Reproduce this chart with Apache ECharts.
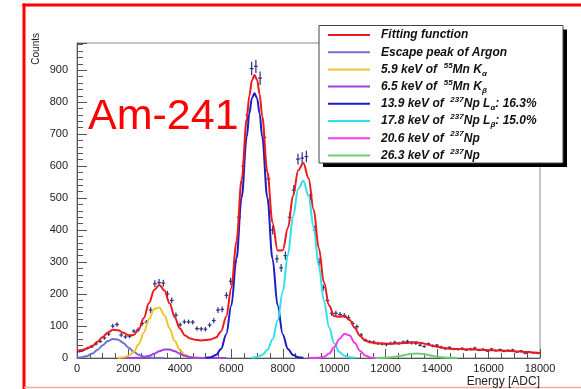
<!DOCTYPE html>
<html>
<head>
<meta charset="utf-8">
<title>Am-241 spectrum</title>
<script src="https://cdn.jsdelivr.net/npm/echarts@6/dist/echarts.min.js"></script>
<style>
  html, body { margin: 0; padding: 0; background: #ffffff; }
  #chart { width: 581px; height: 389px; }
</style>
</head>
<body>
<div id="chart"></div>
<script>
// ---- Axis ranges ----
const ENERGY_MIN = 0;
const ENERGY_MAX = 18000;
const ENERGY_STEP = 2000;
const COUNT_MIN = 0;
const COUNT_MAX = 985;
const COUNT_STEP = 100;
const BIN_COUNT = 110;
const binWidth = (ENERGY_MAX - ENERGY_MIN) / BIN_COUNT;

// ---- Measured histogram (counts per bin) and their errors ----
const histCounts = [
  20, 24, 31, 35, 44, 52, 63, 75, 100, 105,
  72, 66, 68, 84, 88, 108, 112, 150, 232, 236,
  234, 200, 180, 134, 104, 113, 113, 112, 92, 91,
  90, 103, 117, 150, 152, 196, 240, 300, 440, 600,
  760, 905, 912, 875, 690, 560, 400, 310, 282, 320,
  440, 525, 622, 625, 630, 509, 400, 300, 220, 180,
  140, 140, 136, 133, 126, 108, 98, 72, 56, 51,
  50, 46, 44, 42, 46, 49, 46, 50, 52, 47,
  46, 40, 36, 44, 38, 40, 34, 29, 33, 28,
  27, 30, 25, 28, 31, 24, 27, 22, 28, 23,
  26, 21, 24, 25, 19, 22, 15, 19, 16, 15
];
const histErrors = [
  3, 3, 4, 4, 5, 5, 6, 6, 7, 7,
  6, 6, 6, 6, 7, 7, 7, 9, 11, 11,
  11, 10, 9, 8, 7, 7, 7, 7, 7, 7,
  7, 7, 8, 9, 9, 10, 11, 12, 15, 17,
  19, 21, 21, 21, 18, 17, 14, 12, 12, 13,
  15, 16, 17, 18, 18, 16, 14, 12, 10, 9,
  8, 8, 8, 8, 8, 7, 7, 6, 5, 5,
  5, 5, 5, 5, 5, 5, 5, 5, 5, 5,
  5, 4, 4, 5, 4, 4, 4, 4, 4, 4,
  4, 4, 3, 4, 4, 3, 4, 3, 4, 3,
  4, 3, 3, 4, 3, 3, 3, 3, 3, 3
];

// ---- Total fit and its components: [energy, counts] ----
const fitTotal = [
  [0,22],[200,25],[400,30],[600,38],[800,51],[1000,66],[1200,80],[1400,88],[1600,87],[1800,79],
  [2000,71],[2200,72],[2400,89],[2600,125],[2800,172],[3000,213],[3200,228],[3400,211],[3600,171],[3800,127],
  [4000,92],[4200,70],[4400,61],[4600,57],[4800,55],[5000,56],[5200,58],[5400,64],[5600,83],[5800,129],
  [6000,219],[6200,366],[6400,557],[6600,747],[6700,820],[6800,868],[6900,885],[7000,870],[7100,825],[7200,756],
  [7400,582],[7600,424],[7800,336],[8000,337],[8200,407],[8400,507],[8600,587],[8800,610],[9000,563],[9200,464],
  [9400,344],[9600,237],[9800,164],[10000,131],[10200,129],[10400,131],[10600,119],[10800,94],[11000,69],[11200,55],
  [11400,49],[11600,46],[11800,45],[12000,45],[12200,44],[12400,45],[12600,46],[12800,47],[13000,49],[13200,49],
  [13400,47],[13600,43],[13800,39],[14000,35],[14200,32],[14400,30],[14600,28.5],[14800,28],[15000,27.5],[15200,27],
  [15400,26.5],[15600,26],[15800,25],[16000,24.5],[16200,24],[16400,23.5],[16600,23],[16800,22],[17000,21],[17200,20],
  [17400,19],[17600,18],[17800,17],[18000,16]
];
const argonEscape = [
  [0,0.9],[200,2.6],[400,6.6],[600,14.2],[800,25.8],[1000,40],[1200,52.9],[1400,59.7],[1600,57.3],
  [1800,47],[2000,32.8],[2200,19.5],[2400,9.9],[2600,4.3],[2800,1.6],[3000,0.5],[3200,0.1],[3400,0]
];
const mnKalpha = [
  [1600,0],[1800,2],[2000,6.8],[2200,18.9],[2400,42.9],[2600,80],[2800,122],[3000,153],[3200,158],
  [3400,133.6],[3600,92.8],[3800,52.8],[4000,24.7],[4200,9.5],[4400,3],[4600,0.8],[4800,0]
];
const mnKbeta = [
  [1900,0],[2200,0.2],[2400,0.9],[2600,2.7],[2800,6.7],[3000,13.3],[3200,20.9],[3400,26.2],[3600,26.2],
  [3800,20.9],[4000,13.3],[4200,6.7],[4400,2.7],[4600,0.9],[4800,0.2],[5000,0],[5800,0]
];
const npLalpha = [
  [5000,0.6],[5200,2.6],[5400,9.2],[5600,28.2],[5800,73.6],[6000,164],[6200,311],[6400,502],[6600,692],
  [6700,764],[6800,812],[6900,828],[7000,812],[7100,764],[7200,692],[7400,502],[7600,311],[7800,164],
  [8000,73.6],[8200,28.2],[8400,9.2],[8600,2.6],[8800,0.6]
];
const npLbeta = [
  [6800,0.9],[7000,3.1],[7200,9.4],[7400,25],[7600,57.8],[7800,117],[8000,208],[8200,324],[8400,443],
  [8600,529],[8800,554],[9000,508],[9200,409],[9400,288],[9600,178],[9800,96],[10000,45.5],[10200,18.9],
  [10400,6.9],[10600,2.2],[10800,0.6]
];
const np206 = [
  [9000,0],[9400,0.9],[9600,4],[9800,13.7],[10000,33.7],[10200,59.7],[10400,76.2],[10600,70.2],
  [10800,46.7],[11000,22.4],[11200,7.7],[11400,1.9],[11600,0.3],[11800,0]
];
const np263 = [
  [11600,0.1],[11800,0.4],[12000,1],[12200,2.2],[12400,4.3],[12600,7.2],[12800,10.4],[13000,13],[13200,14],
  [13400,13],[13600,10.4],[13800,7.2],[14000,4.3],[14200,2.2],[14400,1],[14600,0.4],[14800,0.1]
];

// ---- Legend entries (series name -> rich label) ----
const seriesNames = [
  'Fitting function',
  'Escape peak of Argon',
  '5.9 keV of 55Mn Kα',
  '6.5 keV of 55Mn Kβ',
  '13.9 keV of 237Np Lα: 16.3%',
  '17.8 keV of 237Np Lβ: 15.0%',
  '20.6 keV of 237Np',
  '26.3 keV of 237Np'
];
const legendLabels = {
  'Fitting function': 'Fitting function',
  'Escape peak of Argon': 'Escape peak of Argon',
  '5.9 keV of 55Mn Kα': '5.9 keV of  {sup|55}Mn K{sub|α}',
  '6.5 keV of 55Mn Kβ': '6.5 keV of  {sup|55}Mn K{sub|β}',
  '13.9 keV of 237Np Lα: 16.3%': '13.9 keV of  {sup|237}Np L{sub|α}: 16.3%',
  '17.8 keV of 237Np Lβ: 15.0%': '17.8 keV of  {sup|237}Np L{sub|β}: 15.0%',
  '20.6 keV of 237Np': '20.6 keV of  {sup|237}Np',
  '26.3 keV of 237Np': '26.3 keV of  {sup|237}Np'
};
const seriesColors = ['#ee1a1a', '#6f6fd4', '#f2c42c', '#a63ee0', '#1c1cc6', '#2ee0ea', '#ee3cee', '#70d070'];
const seriesData = [fitTotal, argonEscape, mnKalpha, mnKbeta, npLalpha, npLbeta, np206, np263];

const FONT = '"Liberation Sans", Arial, Helvetica, sans-serif';

// error-bar cross for one histogram bin
function renderCross(params, api) {
  const x = api.value(0);
  const y = api.value(1);
  const err = api.value(2);
  const c = api.coord([x, y]);
  const hi = api.coord([x, y + err]);
  const lo = api.coord([x, Math.max(0, y - err)]);
  const l = api.coord([x - binWidth * 0.45, y]);
  const r = api.coord([x + binWidth * 0.45, y]);
  const style = { stroke: '#2e2e86', lineWidth: 1.2, fill: null };
  return {
    type: 'group',
    children: [
      { type: 'line', shape: { x1: l[0], y1: c[1], x2: r[0], y2: c[1] }, style: style },
      { type: 'line', shape: { x1: c[0], y1: hi[1], x2: c[0], y2: lo[1] }, style: style }
    ]
  };
}

const lineSeries = seriesNames.map(function (name, i) {
  return {
    type: 'line',
    name: name,
    data: seriesData[i],
    color: seriesColors[i],
    symbol: 'none',
    showSymbol: false,
    smooth: 0.35,
    smoothMonotone: 'x',
    clip: true,
    silent: true,
    lineStyle: { color: seriesColors[i], width: 2 },
    itemStyle: { color: seriesColors[i] },
    z: i === 0 ? 4 : 3
  };
});

const tokenBase = { fontFamily: FONT, fontWeight: 'bold', fontStyle: 'italic', color: '#111' };

const option = {
  animation: false,
  backgroundColor: '#ffffff',
  grid: {
    left: 77, top: 43, right: 41, bottom: 31,
    show: true, borderColor: '#8a8a8a', borderWidth: 1, backgroundColor: 'transparent',
    containLabel: false, outerBoundsMode: 'none'
  },
  xAxis: {
    type: 'value',
    min: ENERGY_MIN, max: ENERGY_MAX, interval: ENERGY_STEP,
    axisLine: { show: true, onZero: false, lineStyle: { color: '#555', width: 1 } },
    axisTick: { show: true, inside: true, length: 9, lineStyle: { color: '#555' } },
    minorTick: { show: true, splitNumber: 4, length: 5, lineStyle: { color: '#555' } },
    splitLine: { show: false },
    axisLabel: {
      fontFamily: FONT, fontSize: 11, color: '#222', margin: 5,
      showMinLabel: true, showMaxLabel: true, hideOverlap: false,
      formatter: function (v) { return String(v); }
    }
  },
  yAxis: {
    type: 'value',
    min: COUNT_MIN, max: COUNT_MAX, interval: COUNT_STEP,
    axisLine: { show: true, onZero: false, lineStyle: { color: '#555', width: 1 } },
    axisTick: { show: true, inside: true, length: 10, lineStyle: { color: '#555' } },
    minorTick: { show: true, splitNumber: 5, length: 6, lineStyle: { color: '#555' } },
    splitLine: { show: false },
    axisLabel: {
      fontFamily: FONT, fontSize: 11, color: '#222', margin: 9,
      showMaxLabel: false, hideOverlap: false,
      formatter: function (v) { return String(v); }
    }
  },
  legend: {
    data: seriesNames,
    orient: 'vertical',
    left: 328, top: 27,
    itemWidth: 42, itemHeight: 2, itemGap: 1.2,
    icon: 'rect',
    padding: 0,
    selectedMode: false,
    z: 10,
    formatter: function (name) { return '{g|}' + legendLabels[name]; },
    textStyle: Object.assign({ fontSize: 12, lineHeight: 16, rich: {
      g: { width: 6 },
      sup: Object.assign({ fontSize: 8, lineHeight: 8, verticalAlign: 'top' }, tokenBase),
      sub: Object.assign({ fontSize: 8, lineHeight: 8, verticalAlign: 'bottom' }, tokenBase)
    } }, tokenBase)
  },
  graphic: [
    // page frame
    { type: 'line', shape: { x1: 22.5, y1: 5, x2: 581, y2: 5 }, style: { stroke: '#ff0000', lineWidth: 3 }, z: 1 },
    { type: 'line', shape: { x1: 24, y1: 3.5, x2: 24, y2: 389 }, style: { stroke: '#ff0000', lineWidth: 3 }, z: 1 },
    { type: 'line', shape: { x1: 24, y1: 387.5, x2: 581, y2: 387.5 }, style: { stroke: '#ffa8a8', lineWidth: 1.5 }, z: 1 },
    // legend box with drop shadow
    { type: 'rect', shape: { x: 323, y: 29.5, width: 244, height: 137.5 }, style: { fill: '#000' }, z: 5 },
    { type: 'rect', shape: { x: 319, y: 25.5, width: 244, height: 137.5 }, style: { fill: '#fff', stroke: '#444', lineWidth: 1 }, z: 6 },
    // source label
    { type: 'text', x: 88, y: 117, z: 7,
      style: { text: 'Am-241', fill: '#ff0000', font: '43px ' + FONT, verticalAlign: 'middle', align: 'left' } },
    // axis titles
    { type: 'text', x: 36, y: 33, rotation: Math.PI / 2, z: 7,
      style: { text: 'Counts', fill: '#222', font: '10px ' + FONT, align: 'right', verticalAlign: 'middle' } },
    { type: 'text', x: 540, y: 382, z: 7,
      style: { text: 'Energy [ADC]', fill: '#222', font: '12px ' + FONT, align: 'right', verticalAlign: 'middle' } }
  ],
  series: [
    {
      type: 'custom',
      name: 'data',
      renderItem: renderCross,
      data: histCounts.map(function (c, i) { return [ENERGY_MIN + (i + 0.5) * binWidth, c, histErrors[i]]; }),
      encode: { x: 0, y: 1 },
      silent: true,
      clip: true,
      z: 2
    }
  ].concat(lineSeries)
};

const chart = echarts.init(document.getElementById('chart'), null, { renderer: 'canvas' });
chart.setOption(option);
</script>
</body>
</html>
